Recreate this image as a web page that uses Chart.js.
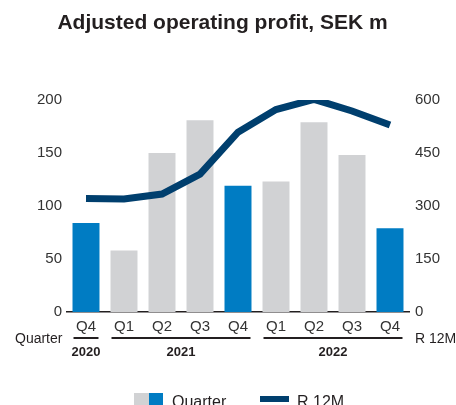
<!DOCTYPE html>
<html>
<head>
<meta charset="utf-8">
<script src="https://cdn.jsdelivr.net/npm/chart.js@4/dist/chart.umd.min.js"></script>
<style>
  html, body { margin: 0; padding: 0; background: #fff; }
  #wrap { width: 456px; height: 405px; }
</style>
</head>
<body>
<div id="wrap"><canvas id="profitChart" width="456" height="405"></canvas></div>
<script>
// data
var quarters = ['Q4', 'Q1', 'Q2', 'Q3', 'Q4', 'Q1', 'Q2', 'Q3', 'Q4'];
var years = ['2020', '2021', '2021', '2021', '2021', '2022', '2022', '2022', '2022'];
var quarterProfit = [84, 58, 150, 181, 119, 123, 179, 148, 79];
var rolling12m = [321, 320, 334, 390, 509, 573, 602, 569, 529];
var leftTicks = [0, 50, 100, 150, 200];
var rightTicks = [0, 150, 300, 450, 600];

var BLUE = '#007cc3';
var GREY = '#d1d2d4';
var NAVY = '#003f6e';
var TEXT = '#231f20';
var FONT = '"Liberation Sans", Arial, Helvetica, sans-serif';

var barColors = quarters.map(function (q) { return q === 'Q4' ? BLUE : GREY; });

// extra texts: title, axis captions, year brackets, legend
var extras = {
  id: 'extras',
  afterDraw: function (chart) {
    var ctx = chart.ctx;
    var x = chart.scales.x;
    var half = (x.getPixelForValue(1) - x.getPixelForValue(0)) * 0.71 / 2;
    ctx.save();
    ctx.fillStyle = TEXT;
    ctx.textBaseline = 'middle';

    ctx.font = 'bold 21px ' + FONT;
    ctx.textAlign = 'center';
    ctx.fillText('Adjusted operating profit, SEK m', 222.5, 23);

    ctx.font = '14px ' + FONT;
    ctx.textAlign = 'left';
    ctx.fillText('Quarter', 15, 339);
    ctx.fillText('R 12M', 415, 339);

    // group years
    var groups = [];
    years.forEach(function (y, i) {
      var g = groups[groups.length - 1];
      if (g && g.label === y) g.to = i;
      else groups.push({ label: y, from: i, to: i });
    });
    ctx.strokeStyle = TEXT;
    ctx.lineWidth = 2;
    ctx.font = 'bold 13px ' + FONT;
    ctx.textAlign = 'center';
    groups.forEach(function (g) {
      var x0 = x.getPixelForValue(g.from) - half + 1;
      var x1 = x.getPixelForValue(g.to) + half - 1;
      ctx.beginPath();
      ctx.moveTo(x0, 338);
      ctx.lineTo(x1, 338);
      ctx.stroke();
      ctx.fillText(g.label, (x0 + x1) / 2, 352);
    });

    // legend
    ctx.fillStyle = GREY;
    ctx.fillRect(134, 393, 15, 15);
    ctx.fillStyle = BLUE;
    ctx.fillRect(149, 393, 14, 15);
    ctx.fillStyle = NAVY;
    ctx.fillRect(260, 396, 29, 6);
    ctx.fillStyle = TEXT;
    ctx.font = '16px ' + FONT;
    ctx.textAlign = 'left';
    ctx.textBaseline = 'alphabetic';
    ctx.fillText('Quarter', 172, 407);
    ctx.fillText('R 12M', 297, 407);
    ctx.restore();
  }
};

var ctx = document.getElementById('profitChart').getContext('2d');
var profitChart = new Chart(ctx, {
  type: 'bar',
  data: {
    labels: quarters,
    datasets: [
      {
        type: 'line',
        label: 'R 12M',
        data: rolling12m,
        yAxisID: 'y2',
        borderColor: NAVY,
        borderWidth: 7,
        pointRadius: 0,
        tension: 0,
        fill: false,
        order: 0
      },
      {
        label: 'Quarter',
        data: quarterProfit,
        yAxisID: 'y',
        backgroundColor: barColors,
        categoryPercentage: 1,
        barPercentage: 0.71,
        order: 1
      }
    ]
  },
  options: {
    responsive: false,
    animation: false,
    layout: { padding: { top: 100, left: 0, right: 0, bottom: 0 } },
    plugins: {
      legend: { display: false },
      title: { display: false },
      tooltip: { enabled: false }
    },
    scales: {
      x: {
        grid: { display: false, drawTicks: false, tickLength: 0 },
        border: { display: true, color: TEXT, width: 1.5 },
        ticks: { color: '#333', font: { family: FONT, size: 15 }, padding: 6, maxRotation: 0 },
        afterFit: function (s) { s.height = 93; }
      },
      y: {
        position: 'left',
        min: 0,
        max: 200,
        afterBuildTicks: function (s) { s.ticks = leftTicks.map(function (v) { return { value: v }; }); },
        grid: { display: false, drawTicks: false },
        border: { display: false },
        ticks: { color: '#333', font: { family: FONT, size: 15 }, padding: 5 },
        afterFit: function (s) { s.width = 67; }
      },
      y2: {
        position: 'right',
        min: 0,
        max: 600,
        afterBuildTicks: function (s) { s.ticks = rightTicks.map(function (v) { return { value: v }; }); },
        grid: { display: false, drawTicks: false },
        border: { display: false },
        ticks: { color: '#333', font: { family: FONT, size: 15 }, padding: 6 },
        afterFit: function (s) { s.width = 47; }
      }
    }
  },
  plugins: [extras]
});
</script>
</body>
</html>
